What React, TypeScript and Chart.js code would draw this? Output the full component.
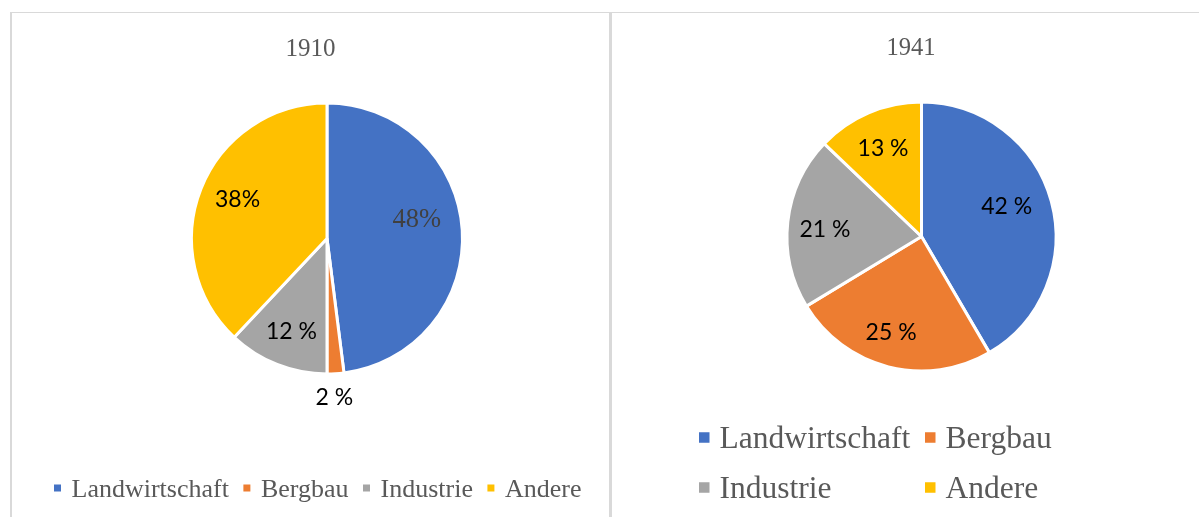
import React, { useEffect, useRef } from "react";
import { Chart, registerables } from "chart.js";

Chart.register(...registerables);

// ---- data ----
const categories = ["Landwirtschaft", "Bergbau", "Industrie", "Andere"];
const sliceColors = ["#4472C4", "#ED7D31", "#A5A5A5", "#FFC000"];

const title1910 = "1910";
const values1910 = [48, 2, 12, 38];
const labels1910 = ["48%", "2 %", "12 %", "38%"];

const title1941 = "1941";
const values1941 = [42, 25, 21, 13];
const labels1941 = ["42 %", "25 %", "21 %", "13 %"];

// ---- styles ----
const SERIF = '"Liberation Serif", "Times New Roman", serif';
const SANS = 'Lato, "Noto Sans", sans-serif';
const TEXT_GRAY = "#595959";

type LegendCfg = {
  x: number;
  rows: number[][];
  rowY: number[];
  colX?: number[];
  fontSize: number;
  box: number;
  gap: number;
  itemGap: number;
};

type DecorCfg = {
  title: string;
  titleX: number;
  titleY: number;
  titleSize: number;
  labels: string[];
  labelFrac: number[];
  labelShift: number[];
  labelFamily: string[];
  labelSize: number[];
  labelColor: string[];
  legend: LegendCfg;
};

const decorPlugin = {
  id: "decor",
  afterDatasetsDraw(chart: any, _args: any, opts: DecorCfg) {
    const ctx: CanvasRenderingContext2D = chart.ctx;
    const meta = chart.getDatasetMeta(0);
    ctx.save();
    // data labels
    meta.data.forEach((arc: any, i: number) => {
      const p = arc.getProps(["x", "y", "startAngle", "endAngle", "outerRadius"], true);
      const a = (p.startAngle + p.endAngle) / 2 + (opts.labelShift[i] * Math.PI) / 180;
      const r = p.outerRadius * opts.labelFrac[i];
      const cx = p.x + Math.cos(a) * r;
      const cy = p.y + Math.sin(a) * r;
      const size = opts.labelSize[i];
      ctx.font = `${size}px ${opts.labelFamily[i]}`;
      ctx.fillStyle = opts.labelColor[i];
      ctx.textAlign = "center";
      ctx.textBaseline = "alphabetic";
      ctx.fillText(opts.labels[i], cx, cy + size * 0.35);
    });
    // title
    ctx.font = `${opts.titleSize}px ${SERIF}`;
    ctx.fillStyle = TEXT_GRAY;
    ctx.textAlign = "center";
    ctx.textBaseline = "alphabetic";
    ctx.fillText(opts.title, opts.titleX, opts.titleY + opts.titleSize * 0.338);
    // legend
    const lg = opts.legend;
    const bg = chart.data.datasets[0].backgroundColor as string[];
    const names = chart.data.labels as string[];
    ctx.font = `${lg.fontSize}px ${SERIF}`;
    ctx.textAlign = "left";
    lg.rows.forEach((row, ri) => {
      const y = lg.rowY[ri];
      let x = lg.x;
      row.forEach((idx, ci) => {
        if (lg.colX) x = lg.x + lg.colX[ci];
        ctx.fillStyle = bg[idx];
        ctx.fillRect(x, y - lg.box / 2, lg.box, lg.box);
        ctx.fillStyle = TEXT_GRAY;
        const tx = x + lg.box + lg.gap;
        ctx.fillText(names[idx], tx, y + lg.fontSize * 0.331);
        x = tx + ctx.measureText(names[idx]).width + lg.itemGap;
      });
    });
    ctx.restore();
  },
};

type PieProps = {
  values: number[];
  decor: DecorCfg;
  padding: { left: number; right: number; top: number; bottom: number };
  box: { left: number; top: number; width: number; height: number };
};

function PieChart({ values, decor, padding, box }: PieProps) {
  const ref = useRef<HTMLCanvasElement | null>(null);
  useEffect(() => {
    if (!ref.current) return;
    const chart = new Chart(ref.current, {
      type: "pie",
      data: {
        labels: categories,
        datasets: [
          {
            data: values,
            backgroundColor: sliceColors,
            borderColor: "#ffffff",
            borderWidth: 3,
          },
        ],
      },
      options: {
        animation: false,
        responsive: true,
        maintainAspectRatio: false,
        layout: { padding },
        plugins: {
          legend: { display: false },
          title: { display: false },
          tooltip: { enabled: false },
          decor: decor as any,
        } as any,
      },
      plugins: [decorPlugin as any],
    });
    return () => chart.destroy();
  }, []);
  return (
    <div
      style={{
        position: "absolute",
        left: box.left,
        top: box.top,
        width: box.width,
        height: box.height,
      }}
    >
      <canvas ref={ref} />
    </div>
  );
}

const decor1910: DecorCfg = {
  title: title1910,
  titleX: 298.5,
  titleY: 35,
  titleSize: 25,
  labels: labels1910,
  labelFrac: [0.68, 1.168, 0.734, 0.723],
  labelShift: [-9.5, 0.9, -0.7, 2.5],
  labelFamily: [SERIF, SANS, SANS, SANS],
  labelSize: [26.5, 23, 23, 23],
  labelColor: ["#404040", "#000000", "#000000", "#000000"],
  legend: {
    x: 42,
    rows: [[0, 1, 2, 3]],
    rowY: [475],
    fontSize: 26,
    box: 7,
    gap: 10.5,
    itemGap: 14.5,
  },
};

const decor1941: DecorCfg = {
  title: title1941,
  titleX: 299,
  titleY: 34,
  titleSize: 24.5,
  labels: labels1941,
  labelFrac: [0.672, 0.742, 0.72, 0.715],
  labelShift: [-4.3, 3.5, -1.8, -0.4],
  labelFamily: [SANS, SANS, SANS, SANS],
  labelSize: [23, 23, 23, 23],
  labelColor: ["#000000", "#000000", "#000000", "#000000"],
  legend: {
    x: 87,
    rows: [
      [0, 1],
      [2, 3],
    ],
    rowY: [424.5, 474.5],
    colX: [0, 226],
    fontSize: 31.5,
    box: 10.5,
    gap: 10,
    itemGap: 14,
  },
};

export default function App() {
  return (
    <div
      style={{
        position: "fixed",
        left: 0,
        top: 0,
        width: 1199,
        height: 517,
        overflow: "hidden",
        background: "#ffffff",
      }}
    >
      {/* panel frame */}
      <div
        style={{
          position: "absolute",
          left: 10,
          top: 12,
          width: 1300,
          height: 600,
          borderTop: "1.5px solid #d9d9d9",
          borderLeft: "2px solid #d9d9d9",
        }}
      />
      <div
        style={{
          position: "absolute",
          left: 608.5,
          top: 12,
          width: 3.5,
          height: 600,
          background: "#d9d9d9",
        }}
      />
      <PieChart
        values={values1910}
        decor={decor1910}
        padding={{ left: 178, right: 143, top: 88.5, bottom: 141.5 }}
        box={{ left: 12, top: 13, width: 595, height: 504 }}
      />
      <PieChart
        values={values1941}
        decor={decor1941}
        padding={{ left: 173.5, right: 141.5, top: 87.5, bottom: 144.5 }}
        box={{ left: 612, top: 13, width: 587, height: 504 }}
      />
    </div>
  );
}
